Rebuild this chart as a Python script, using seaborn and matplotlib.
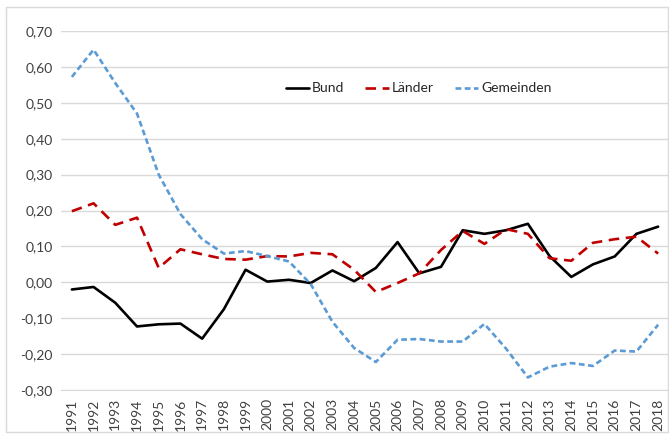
import numpy as np
import pandas as pd
import matplotlib.pyplot as plt
import matplotlib as mpl
import seaborn as sns
from matplotlib.ticker import FuncFormatter, MultipleLocator

# ------------------
# Data
# ------------------
years = list(range(1991, 2019))
bund = [-0.020, -0.013, -0.057, -0.123, -0.117, -0.115, -0.157, -0.075,
        0.035, 0.002, 0.007, -0.002, 0.033, 0.003, 0.040, 0.112, 0.025,
        0.043, 0.145, 0.135, 0.145, 0.163, 0.073, 0.015, 0.050, 0.072,
        0.135, 0.155]
laender = [0.198, 0.220, 0.160, 0.180, 0.040, 0.092, 0.078, 0.065, 0.063,
           0.073, 0.072, 0.082, 0.078, 0.035, -0.027, -0.002, 0.025, 0.090,
           0.143, 0.107, 0.148, 0.135, 0.067, 0.060, 0.110, 0.120, 0.127,
           0.080]
gemeinden = [0.572, 0.648, 0.555, 0.470, 0.300, 0.190, 0.120, 0.080, 0.087,
             0.073, 0.058, -0.005, -0.110, -0.183, -0.222, -0.160, -0.158,
             -0.165, -0.165, -0.116, -0.185, -0.265, -0.235, -0.225, -0.233,
             -0.190, -0.193, -0.118]
series_names = ['Bund', 'Länder', 'Gemeinden']

df = pd.DataFrame({'Jahr': years, 'Bund': bund, 'Länder': laender,
                   'Gemeinden': gemeinden})
df_long = df.melt(id_vars='Jahr', var_name='Ebene', value_name='Wert')

# ------------------
# Plotting
# ------------------
sns.set_style('white')
mpl.rcParams['font.family'] = ['Lato', 'DejaVu Sans']
mpl.rcParams['font.size'] = 10

fig = plt.figure(figsize=(6.69, 4.34), dpi=100)
ax = fig.add_axes([61 / 669, 44 / 434, 608 / 669, 359 / 434])

palette = {'Bund': '#000000', 'Länder': '#c00000', 'Gemeinden': '#5b9bd5'}
dashes = {'Bund': '', 'Länder': (4, 2.5), 'Gemeinden': (2.2, 1.3)}
sns.lineplot(data=df_long, x='Jahr', y='Wert', hue='Ebene', style='Ebene',
             hue_order=series_names, style_order=series_names,
             palette=palette, dashes=dashes, linewidth=1.9, ax=ax)

ax.set_xlim(1990.5, 2018.5)
ax.set_ylim(-0.3, 0.7)
ax.yaxis.set_major_locator(MultipleLocator(0.1))
ax.yaxis.set_major_formatter(
    FuncFormatter(lambda v, p: f'{v:.2f}'.replace('.', ',')))
ax.set_xticks(years)
ax.set_xticklabels([str(y) for y in years], rotation=90)
ax.tick_params(axis='both', length=0, labelsize=10, colors='#404040',
               pad=6)
ax.grid(axis='y', color='#d9d9d9', linewidth=1)
ax.set_axisbelow(True)
for side in ['top', 'right', 'left']:
    ax.spines[side].set_visible(False)
ax.spines['bottom'].set_color('#d9d9d9')
ax.set_xlabel('')
ax.set_ylabel('')

ax.legend(loc='center', bbox_to_anchor=(0.588, 0.84), ncol=3, frameon=False,
          handlelength=1.7, handletextpad=0.2, columnspacing=1.5,
          fontsize=10)

# chart frame
fig.patches.append(mpl.patches.Rectangle(
    (6 / 669, 2 / 434), 662 / 669, 425 / 434, transform=fig.transFigure,
    fill=False, edgecolor='#d9d9d9', linewidth=1))

fig.savefig('out.png', dpi=100)
plt.close('all')
